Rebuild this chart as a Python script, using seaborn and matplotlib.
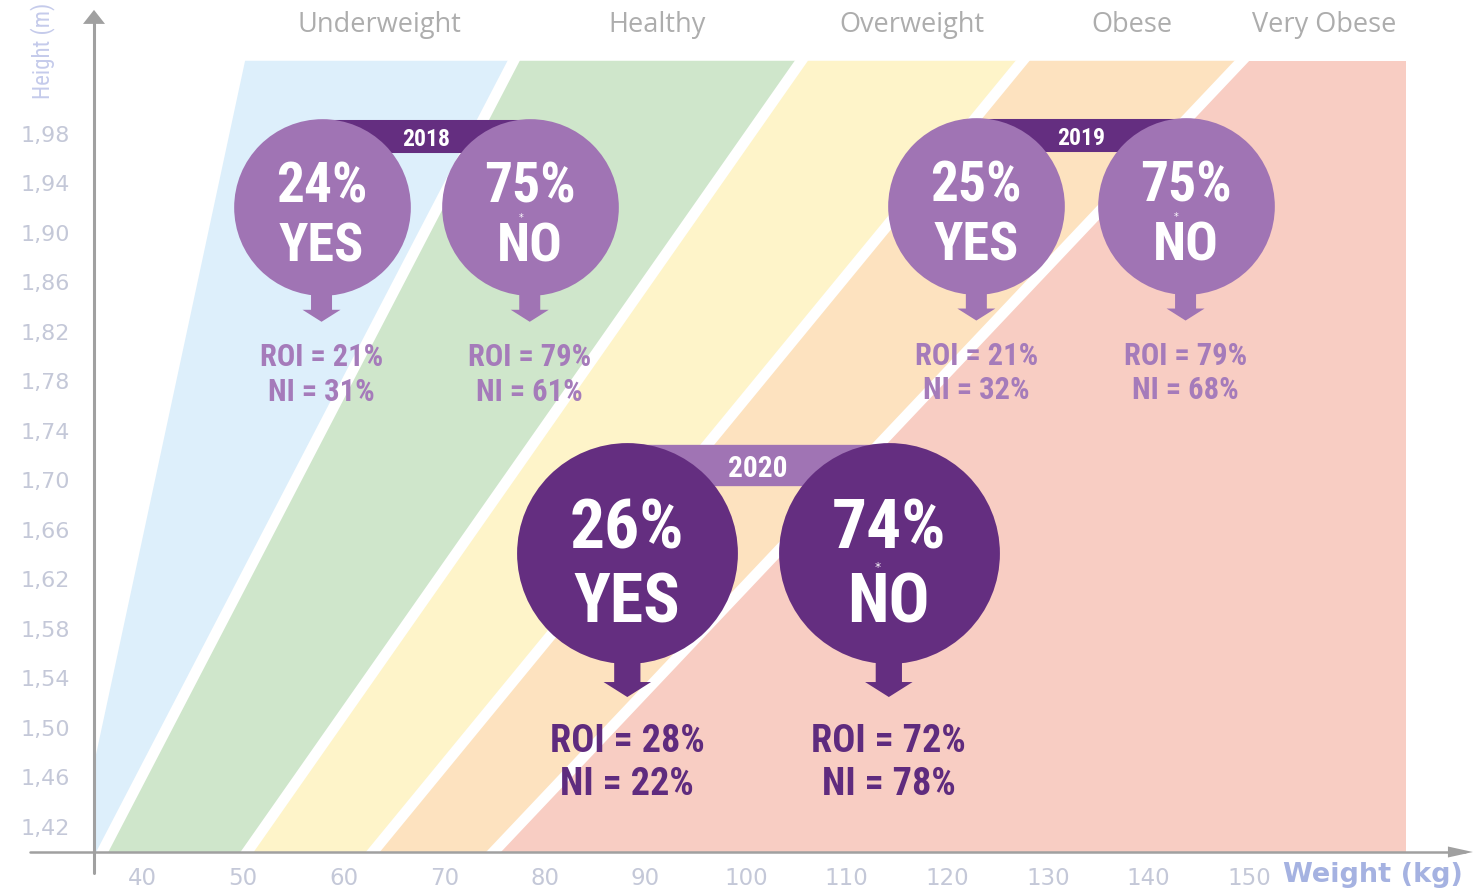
import matplotlib
matplotlib.use('Agg')
import matplotlib.pyplot as plt
import seaborn as sns
from matplotlib import font_manager

sns.set_theme(style='white')

# BMI bands: boundary weights (kg) at the top of the chart and at the x axis
bmi_classes = ['Underweight', 'Healthy', 'Overweight', 'Obese', 'Very Obese']
band_colors = ['#DDEFFB', '#CFE6CB', '#FEF4C9', '#FDE2BF', '#F8CDC3']
edge_top = [50.2, 76.9, 105.5, 127.5, 149.3, 165.6]
edge_bottom = [33.3, 36.0, 50.4, 62.9, 74.9, 165.6]
band_top = 2.039

weight_ticks = [40, 50, 60, 70, 80, 90, 100, 110, 120, 130, 140, 150]
height_ticks = [1.42, 1.46, 1.50, 1.54, 1.58, 1.62, 1.66, 1.70, 1.74, 1.78, 1.82, 1.86, 1.90, 1.94, 1.98]

# survey results per year
years = ['2018', '2019', '2020']
yes_share = [24, 25, 26]
no_share = [75, 75, 74]
roi_yes = [21, 21, 28]
ni_yes = [31, 32, 22]
roi_no = [79, 79, 72]
ni_no = [61, 68, 78]

# where each pair of bubbles sits (weight, height) and how big it is
yes_w = [57.8, 122.9, 88.2]
no_w = [78.5, 143.7, 114.2]
pair_h = [1.921, 1.922, 1.641]
pair_scale = [1.0, 1.0, 1.25]

names = {f.name for f in font_manager.fontManager.ttflist}
cond = next((n for n in ['Roboto Condensed', 'Open Sans Condensed', 'Liberation Sans Narrow', 'DejaVu Sans']
             if n in names), 'DejaVu Sans')

light_purple = '#A074B4'
dark_purple = '#642E80'
gray = '#A0A0A0'

fig = plt.figure(figsize=(14.83, 8.89), dpi=100)
fig.patch.set_facecolor('white')
ax = fig.add_axes([94 / 1483, 37 / 889, 1389 / 1483, 852 / 889])
ax.set_xlim(35.18, 173.27)
ax.set_ylim(1.3996, 2.0881)
ax.set_facecolor('none')
for sp in ax.spines.values():
    sp.set_visible(False)
x0, x1 = ax.get_xlim()
y0, y1 = ax.get_ylim()


def shift(w, h, dx, dy):
    # move a data point by pixels (dx right, dy down)
    px, py = ax.transData.transform((w, h))
    return ax.transData.inverted().transform((px + dx, py - dy))


# bands
for i, name in enumerate(bmi_classes):
    ax.fill([edge_top[i], edge_top[i + 1], edge_bottom[i + 1], edge_bottom[i]],
            [band_top, band_top, y0, y0], color=band_colors[i], lw=0, zorder=1)
    ax.annotate(name, xy=((edge_top[i] + edge_top[i + 1]) / 2, band_top), xytext=(0, 21),
                textcoords='offset points', ha='center', va='baseline',
                fontfamily='Open Sans', fontsize=19.5, color='#ADADAD')

# white gaps between bands
ext = 0.012
for i in range(1, 5):
    slope = (edge_top[i] - edge_bottom[i]) / (band_top - y0)
    ax.plot([edge_top[i] + slope * ext, edge_bottom[i] - slope * ext], [band_top + ext, y0 - ext],
            color='white', lw=7.8, solid_capstyle='butt', zorder=2)

# axes arrows
ax.plot([28.8, 171.5], [y0, y0], color=gray, lw=1.8, clip_on=False, zorder=3)
tip = (172.27, y0)
head = [tip, shift(*tip, -25, -5.5), shift(*tip, -25, 5.5)]
ax.fill([p[0] for p in head], [p[1] for p in head], color=gray, lw=0, clip_on=False, zorder=3)
ax.plot([x0, x0], [1.3826, 2.07], color=gray, lw=2.2, clip_on=False, zorder=3)
tip = (x0, 2.0801)
head = [tip, shift(*tip, -11, 14), shift(*tip, 11, 14)]
ax.fill([p[0] for p in head], [p[1] for p in head], color=gray, lw=0, clip_on=False, zorder=3)

# bubbles
arrow_shape = [(-10.5, 85), (10.5, 85), (10.5, 103), (19, 103), (0, 115), (-19, 103), (-10.5, 103)]
for i, yr in enumerate(years):
    s = pair_scale[i]
    dark = i == 2
    circ_c = dark_purple if dark else light_purple
    bar_c = light_purple if dark else dark_purple
    txt_c = '#5F2B7E' if dark else '#A57BBA'
    wl, wr, h = yes_w[i], no_w[i], pair_h[i]

    hb = shift(wl, h, 0, -70.7 * s)[1]
    ax.plot([wl, wr], [hb, hb], color=bar_c, lw=23.8 * s, solid_capstyle='butt', zorder=4)
    sns.scatterplot(x=[wl, wr], y=[h, h], s=(127.2 * s) ** 2, color=circ_c, linewidth=0,
                    ax=ax, zorder=5, legend=False)
    ax.annotate(yr, xy=((wl + wr) / 2, h), xytext=(0, 43.7 * s), textcoords='offset points',
                ha='center', va='baseline', fontfamily=cond, fontweight='bold',
                fontsize=17 * s, color='white', zorder=6)

    parts = [(wl, yes_share[i], 'YES', roi_yes[i], ni_yes[i]),
             (wr, no_share[i], 'NO', roi_no[i], ni_no[i])]
    for w, share, word, roi, ni in parts:
        ax.annotate(f'{share}%', xy=(w, h), xytext=(0, 3 * s), textcoords='offset points',
                    ha='center', va='baseline', fontfamily=cond, fontweight='bold',
                    fontsize=40 * s, color='white', zorder=6)
        ax.annotate(word, xy=(w, h), xytext=(0, -39.6 * s), textcoords='offset points',
                    ha='center', va='baseline', fontfamily=cond, fontweight='bold',
                    fontsize=39 * s, color='white', zorder=6)
        pts = [shift(w, h, dx * s, dy * s) for dx, dy in arrow_shape]
        ax.fill([p[0] for p in pts], [p[1] for p in pts], color=circ_c, lw=0, zorder=4.5)
        ax.annotate(f'ROI = {roi}%', xy=(w, h), xytext=(0, -114.5 * s), textcoords='offset points',
                    ha='center', va='baseline', fontfamily=cond, fontweight='bold',
                    fontsize=22 * s, color=txt_c, zorder=6)
        ax.annotate(f'NI = {ni}%', xy=(w, h), xytext=(0, -139.5 * s), textcoords='offset points',
                    ha='center', va='baseline', fontfamily=cond, fontweight='bold',
                    fontsize=22 * s, color=txt_c, zorder=6)
    ax.annotate('*', xy=(wr, h), xytext=(-6.5 * s, -8 * s), textcoords='offset points',
                ha='center', va='center', fontsize=7 * s, color='white', zorder=7)

# ticks and axis titles
ax.set_xticks(weight_ticks)
ax.set_xticklabels([str(v) for v in weight_ticks])
ax.set_yticks(height_ticks)
ax.set_yticklabels([f'{v:.2f}'.replace('.', ',') for v in height_ticks])
ax.tick_params(axis='x', length=0, pad=11, labelsize=16.5, labelcolor='#C4C8D8')
ax.tick_params(axis='y', length=0, pad=17.3, labelsize=16, labelcolor='#C4C8D8')
for lab in ax.get_xticklabels() + ax.get_yticklabels():
    lab.set_fontfamily('DejaVu Sans')

ax.set_ylabel('Height (m)', fontfamily=cond, fontsize=16.5, color='#C5CBEB')
ax.yaxis.set_label_coords(-0.0374, 0.940)
ax.yaxis.label.set_va('center')
ax.set_xlabel('Weight (kg)', fontfamily='DejaVu Sans', fontweight='bold', fontsize=19.5, color='#A5B2E1')
ax.xaxis.set_label_coords(0.856, -0.0352)
ax.xaxis.label.set_ha('left')
ax.xaxis.label.set_va('baseline')

fig.savefig('out.png', dpi=100)
